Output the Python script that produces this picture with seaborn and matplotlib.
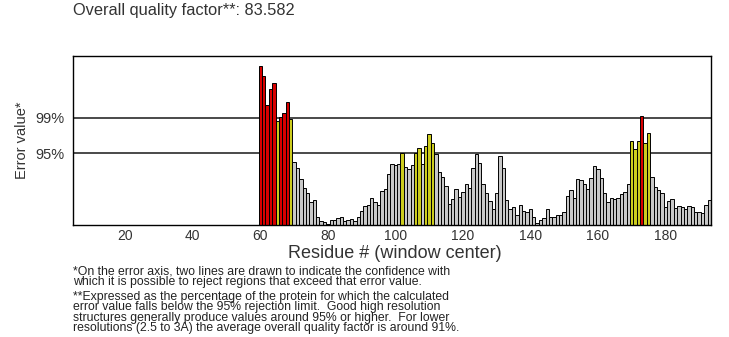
import numpy as np
import pandas as pd
import seaborn as sns
import matplotlib
matplotlib.use("Agg")
import matplotlib.pyplot as plt

# ERRAT output: error value per residue (window center)
residues = list(range(60, 194))
error_values = [
    25.55, 23.95, 19.25, 21.81, 22.72, 16.64, 17.39, 17.97, 19.79, 17.01,   # 60-69
    10.08, 9.12, 7.41, 5.92, 5.17, 3.68, 3.95, 1.28, 0.64, 0.48,            # 70-79
    0.21, 0.75, 0.85, 1.12, 1.23, 0.64, 0.85, 1.01, 0.69, 1.33,             # 80-89
    2.29, 3.04, 3.15, 4.32, 3.68, 3.15, 5.39, 5.81, 8.21, 9.81,             # 90-99
    9.55, 9.81, 11.60, 9.28, 9.01, 9.65, 11.60, 12.32, 9.81, 12.64,         # 100-109
    14.61, 13.17, 11.41, 8.48, 7.68, 6.24, 3.41, 4.21, 5.81, 4.48,          # 110-119
    5.28, 6.61, 5.92, 9.12, 11.41, 9.97, 6.61, 5.17, 3.84, 2.61,            # 120-129
    5.17, 10.99, 9.12, 3.95, 2.51, 2.88, 1.65, 3.25, 2.19, 2.08,            # 130-139
    2.51, 1.28, 0.37, 0.75, 1.17, 2.51, 1.28, 1.28, 1.65, 1.55,             # 140-149
    2.08, 4.64, 5.55, 4.32, 7.31, 7.15, 6.61, 5.71, 7.52, 9.39,             # 150-159
    9.01, 7.52, 5.17, 3.68, 4.32, 4.21, 4.32, 4.90, 5.30, 6.61,             # 160-169
    13.39, 12.11, 13.55, 17.44, 13.17, 14.77, 7.68, 6.08, 5.65, 5.17,       # 170-179
    2.88, 3.79, 4.11, 2.72, 3.04, 2.88, 2.51, 3.04, 2.88, 2.08,             # 180-189
    2.08, 1.97, 3.15, 3.95,                                                 # 190-193
]

limit_95 = 11.526
limit_99 = 17.190
quality_factor = 83.582

x_ticks = list(range(10, 191, 10))
x_labels = [str(t) if t % 20 == 0 else "" for t in x_ticks]

note_error_axis = [
    "*On the error axis, two lines are drawn to indicate the confidence with",
    "which it is possible to reject regions that exceed that error value.",
]
note_quality = [
    "**Expressed as the percentage of the protein for which the calculated",
    "error value falls below the 95% rejection limit.  Good high resolution",
    "structures generally produce values around 95% or higher.  For lower",
    "resolutions (2.5 to 3A) the average overall quality factor is around 91%.",
]

df = pd.DataFrame({"residue": residues, "error": error_values})
df["zone"] = np.select(
    [df["error"] >= limit_99, df["error"] >= limit_95], ["reject99", "reject95"], "ok"
)
colors = {"reject99": "#d80000", "reject95": "#cccc1e", "ok": "#c8c8c8"}

sns.set_style("white")
plt.rcParams["font.family"] = ["Liberation Sans", "DejaVu Sans"]

W, H = 729, 337
fig = plt.figure(figsize=(W / 100, H / 100), dpi=100)
ax = fig.add_axes([73 / W, 1 - 225 / H, (711 - 73) / W, (225 - 56) / H])

sns.barplot(
    data=df, x="residue", y="error", hue="zone", palette=colors,
    native_scale=True, dodge=False, width=1, saturation=1,
    edgecolor="black", linewidth=0.7, legend=False, ax=ax,
)

for lim in (limit_95, limit_99):
    ax.axhline(lim, color="#3a3a3a", lw=1.3, zorder=0.5)

ax.set_xlim(4.5, 193.5)
ax.set_ylim(0, 27.1)

ax.set_xticks(x_ticks)
ax.set_xticklabels(x_labels)
ax.set_yticks([limit_95, limit_99])
ax.set_yticklabels(["95%", "99%"])
ax.tick_params(axis="x", length=3, width=0.8, pad=0, labelsize=10, colors="#333333")
ax.tick_params(axis="y", length=0, pad=6, labelsize=10.5, colors="#333333")

ax.set_xlabel("Residue # (window center)", fontsize=13, color="#333333")
ax.xaxis.set_label_coords((395 - 73) / (711 - 73), -(244.5 - 225) / (225 - 56))
ax.xaxis.label.set_va("top")
ax.set_ylabel("Error value*", fontsize=10.5, color="#333333", labelpad=5)

for side in ax.spines.values():
    side.set_visible(True)
    side.set_color("black")
    side.set_linewidth(1.0)

fig.text(73 / W, 1 - 11 / H, f"Overall quality factor**: {quality_factor}",
         fontsize=11.8, color="#333333", va="center", ha="left")

# footnotes, two blocks with tight line spacing
fig.text(73 / W, 1 - 266 / H, "\n".join(note_error_axis), fontsize=8.8,
         color="#222222", va="top", ha="left", linespacing=0.83)
fig.text(73 / W, 1 - 291 / H, "\n".join(note_quality), fontsize=8.8,
         color="#222222", va="top", ha="left", linespacing=0.83)

fig.savefig("out.png", dpi=100)
